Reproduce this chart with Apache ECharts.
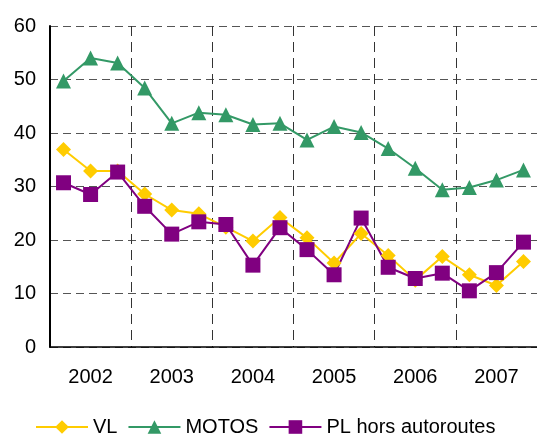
<!DOCTYPE html>
<html>
<head>
<meta charset="utf-8">
<script src="https://cdn.jsdelivr.net/npm/echarts@6/dist/echarts.min.js"></script>
<style>
  html, body { margin: 0; padding: 0; background: #fff; }
  #chart { width: 537px; height: 434px; }
</style>
</head>
<body>
<div id="chart"></div>
<script>
// Four-month periods, three per year
const periods = [
  '2002 T1', '2002 T2', '2002 T3',
  '2003 T1', '2003 T2', '2003 T3',
  '2004 T1', '2004 T2', '2004 T3',
  '2005 T1', '2005 T2', '2005 T3',
  '2006 T1', '2006 T2', '2006 T3',
  '2007 T1', '2007 T2', '2007 T3'
];

const vl = [36.9, 32.9, 32.9, 28.6, 25.6, 24.9, 22.4, 19.8, 24.2, 20.4, 15.7, 21.2, 17.1, 12.5, 16.9, 13.5, 11.5, 16.0];
const motos = [49.7, 54.0, 53.1, 48.4, 41.8, 43.8, 43.4, 41.6, 41.8, 38.7, 41.2, 40.1, 37.1, 33.4, 29.4, 29.8, 31.2, 33.1];
const plHorsAutoroutes = [30.7, 28.5, 32.7, 26.3, 21.1, 23.4, 22.9, 15.3, 22.3, 18.2, 13.5, 24.1, 14.9, 12.8, 13.8, 10.5, 13.9, 19.6];

const yTicks = { min: 0, max: 60, interval: 10 };

const font = 'Liberation Sans, Arial, sans-serif';

function lineSeries(name, data, color, symbol, size) {
  return {
    name: name,
    type: 'line',
    data: data,
    symbol: symbol,
    symbolSize: size,
    lineStyle: { color: color, width: 2 },
    itemStyle: { color: color },
    emphasis: { disabled: true }
  };
}

const chart = echarts.init(document.getElementById('chart'), null, { renderer: 'canvas' });
chart.setOption({
  animation: false,
  backgroundColor: '#ffffff',
  grid: { left: 50, top: 26, right: -7, bottom: 87 },
  xAxis: {
    type: 'category',
    data: periods,
    boundaryGap: true,
    axisLine: { show: true, lineStyle: { color: '#000', width: 1.5 } },
    axisTick: { show: false },
    axisLabel: {
      interval: function (i) { return i % 3 === 1; },
      formatter: function (v) { return v.slice(0, 4); },
      color: '#000',
      fontFamily: font,
      fontSize: 20,
      margin: 20
    },
    splitLine: {
      show: true,
      interval: function (i) { return i % 3 === 0 && i > 0; },
      lineStyle: { color: '#333', width: 1, type: [10, 6] }
    }
  },
  yAxis: {
    type: 'value',
    min: yTicks.min,
    max: yTicks.max,
    interval: yTicks.interval,
    axisLine: { show: true, lineStyle: { color: '#000', width: 2 } },
    axisTick: { show: false },
    axisLabel: {
      color: '#000',
      fontFamily: font,
      fontSize: 20,
      margin: 14
    },
    splitLine: {
      show: true,
      lineStyle: { color: '#555', width: 1, type: [8, 5] }
    }
  },
  legend: {
    top: 412,
    left: 30,
    itemWidth: 52,
    itemHeight: 17,
    itemGap: 10,
    textStyle: { color: '#000', fontFamily: font, fontSize: 20 },
    data: ['VL', 'MOTOS', 'PL hors autoroutes']
  },
  series: [
    lineSeries('VL', vl, '#FFCC00', 'diamond', 15),
    lineSeries('MOTOS', motos, '#339966', 'triangle', 15),
    lineSeries('PL hors autoroutes', plHorsAutoroutes, '#800080', 'rect', 15)
  ]
});
</script>
</body>
</html>
